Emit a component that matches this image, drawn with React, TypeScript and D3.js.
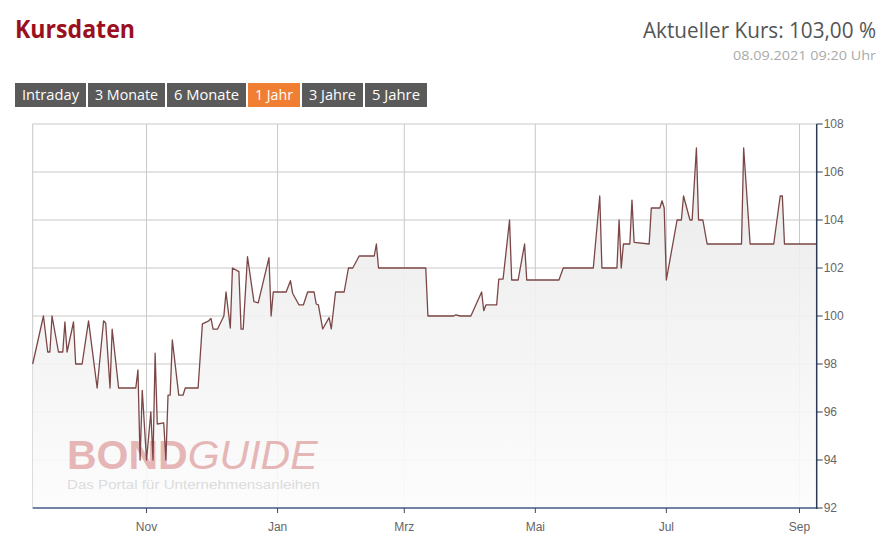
import React from 'react';
import * as d3 from 'd3';

// Kursverlauf, 1 Jahr
const dates = [
    '2020-09-09', '2020-09-14', '2020-09-16', '2020-09-17', '2020-09-18', '2020-09-21', '2020-09-23',
    '2020-09-24', '2020-09-25', '2020-09-28', '2020-09-29', '2020-10-02', '2020-10-05', '2020-10-09',
    '2020-10-12', '2020-10-13', '2020-10-15', '2020-10-16', '2020-10-19', '2020-10-27', '2020-10-28',
    '2020-10-29', '2020-10-30', '2020-11-01', '2020-11-03', '2020-11-04', '2020-11-05', '2020-11-06',
    '2020-11-09', '2020-11-10', '2020-11-11', '2020-11-12', '2020-11-13', '2020-11-16', '2020-11-18',
    '2020-11-19', '2020-11-25', '2020-11-27', '2020-11-30', '2020-12-01', '2020-12-02', '2020-12-04',
    '2020-12-07', '2020-12-08', '2020-12-10', '2020-12-11', '2020-12-14', '2020-12-15', '2020-12-16',
    '2020-12-18', '2020-12-21', '2020-12-23', '2020-12-28', '2020-12-29', '2020-12-30', '2021-01-05',
    '2021-01-07', '2021-01-08', '2021-01-11', '2021-01-13', '2021-01-15', '2021-01-18', '2021-01-19',
    '2021-01-20', '2021-01-22', '2021-01-25', '2021-01-26', '2021-01-28', '2021-02-01', '2021-02-03',
    '2021-02-05', '2021-02-08', '2021-02-15', '2021-02-16', '2021-02-17', '2021-03-11', '2021-03-12',
    '2021-03-24', '2021-03-25', '2021-03-27', '2021-04-01', '2021-04-06', '2021-04-07', '2021-04-08',
    '2021-04-13', '2021-04-14', '2021-04-16', '2021-04-19', '2021-04-20', '2021-04-23', '2021-04-26',
    '2021-04-27', '2021-05-12', '2021-05-14', '2021-05-28', '2021-05-31', '2021-06-01', '2021-06-08',
    '2021-06-09', '2021-06-10', '2021-06-11', '2021-06-14', '2021-06-15', '2021-06-16', '2021-06-23',
    '2021-06-24', '2021-06-28', '2021-06-29', '2021-06-30', '2021-07-01', '2021-07-06', '2021-07-08',
    '2021-07-09', '2021-07-12', '2021-07-13', '2021-07-15', '2021-07-16', '2021-07-18', '2021-07-20',
    '2021-08-05', '2021-08-06', '2021-08-09', '2021-08-20', '2021-08-23', '2021-08-24', '2021-08-25',
    '2021-09-09',
];

const prices = [
    98, 100, 98.5, 98.5, 100, 98.5, 98.5,
    99.75, 98.5, 99.75, 98, 98, 99.8, 97,
    99.8, 99.7, 97, 99.45, 97, 97, 97.75,
    94, 96.9, 94, 96, 94, 98.45, 95.5,
    95.55, 94, 96.7, 96.7, 99, 96.7, 96.7,
    97, 97, 99.67, 99.8, 99.9, 99.45, 99.45,
    100, 101, 99.5, 102, 101.85, 99.45, 99.45,
    102.47, 100.6, 100.55, 102.43, 100, 101, 101,
    101.47, 100.95, 100.46, 100.46, 101, 101, 100.5,
    100.46, 99.46, 99.93, 99.46, 101, 101, 102,
    102, 102.5, 102.5, 103, 102, 102, 100,
    100, 100.05, 100, 100, 101, 100.22, 100.46,
    100.46, 101.54, 101.54, 104, 101.5, 101.5, 103,
    101.5, 101.5, 102, 102, 105, 102, 102,
    104, 102, 103, 103, 104.83, 103.07, 103,
    104.5, 104.5, 104.8, 104.5, 101.5, 104, 104,
    105, 104, 104, 107, 104, 104, 103,
    103, 107, 103, 103, 105, 105, 103,
    103,
];

const yTicks = [92, 94, 96, 98, 100, 102, 104, 106, 108];
const monthTicks = ['2020-11-01', '2021-01-01', '2021-03-01', '2021-05-01', '2021-07-01', '2021-09-01'];
const monthLabels = ['Nov', 'Jan', 'Mrz', 'Mai', 'Jul', 'Sep'];
const rangeButtons = ['Intraday', '3 Monate', '6 Monate', '1 Jahr', '3 Jahre', '5 Jahre'];
const activeRange = '1 Jahr';

const W = 885;
const H = 550;
const plot = { left: 32.7, right: 816.7, top: 124, bottom: 508 };
const buttonWidths = [71, 77, 79, 52, 61, 62];

const parse = d3.timeParse('%Y-%m-%d');

interface Point {
    date: Date;
    value: number;
}

const App: React.FC = () => {
    const data: Point[] = dates.map((d, i) => ({ date: parse(d) as Date, value: prices[i] }));

    const x = d3
        .scaleTime()
        .domain([parse('2020-09-09') as Date, parse('2021-09-09') as Date])
        .range([plot.left, plot.right]);
    const y = d3.scaleLinear().domain([92, 108]).range([plot.bottom, plot.top]);

    const line = d3
        .line<Point>()
        .x((d) => x(d.date))
        .y((d) => y(d.value));
    const area = d3
        .area<Point>()
        .x((d) => x(d.date))
        .y0(plot.bottom)
        .y1((d) => y(d.value));

    const ticks = monthTicks.map((m) => parse(m) as Date);

    let bx = 15;
    const buttons = rangeButtons.map((label, i) => {
        const b = { label, x: bx, w: buttonWidths[i] };
        bx += buttonWidths[i] + 2;
        return b;
    });

    return (
        <svg
            width={W}
            height={H}
            style={{ position: 'absolute', left: 0, top: 0, background: '#fff' }}
        >
            <defs>
                <linearGradient id="areaFill" gradientUnits="userSpaceOnUse" x1="0" y1={plot.top} x2="0" y2={plot.bottom}>
                    <stop offset="0" stopColor="#e7e7e7" />
                    <stop offset="1" stopColor="#fcfcfc" />
                </linearGradient>
            </defs>

            {/* Kopfzeile */}
            <text
                x={15}
                y={38}
                fontFamily="Open Sans"
                fontWeight={700}
                fontSize={25}
                fill="#9b1020"
                textLength={120}
                lengthAdjust="spacingAndGlyphs"
            >
                Kursdaten
            </text>
            <text
                x={876}
                y={38}
                textAnchor="end"
                fontFamily="Open Sans"
                fontSize={21}
                fill="#555"
                textLength={233}
                lengthAdjust="spacingAndGlyphs"
            >
                Aktueller Kurs: 103,00 %
            </text>
            <text
                x={876}
                y={60}
                textAnchor="end"
                fontFamily="Open Sans"
                fontSize={13}
                fill="#aaa"
                textLength={143}
                lengthAdjust="spacingAndGlyphs"
            >
                08.09.2021 09:20 Uhr
            </text>

            {buttons.map((b) => (
                <g key={b.label}>
                    <rect
                        x={b.x}
                        y={83}
                        width={b.w}
                        height={24}
                        fill={b.label === activeRange ? '#f07f34' : '#5a5a5a'}
                    />
                    <text
                        x={b.x + b.w / 2}
                        y={100}
                        textAnchor="middle"
                        fontFamily="Open Sans"
                        fontSize={14}
                        fill="#fff"
                        textLength={b.w - 14}
                        lengthAdjust="spacingAndGlyphs"
                    >
                        {b.label}
                    </text>
                </g>
            ))}

            {/* Raster */}
            <g stroke="#c8c8c8" strokeWidth={1}>
                {yTicks.map((t) => (
                    <line key={t} x1={plot.left} x2={plot.right} y1={y(t)} y2={y(t)} />
                ))}
                <line x1={plot.left} x2={plot.left} y1={plot.top} y2={plot.bottom} />
                {ticks.map((t, i) => (
                    <line key={i} x1={x(t)} x2={x(t)} y1={plot.top} y2={plot.bottom} />
                ))}
            </g>

            <path d={area(data) || ''} fill="url(#areaFill)" opacity={0.9} />

            {/* Wasserzeichen */}
            <text x={67} y={469} fontFamily="Liberation Sans, Arial" fontSize={41} fill="#d98a8a" opacity={0.6}>
                <tspan fontWeight={700}>BOND</tspan>
                <tspan fontStyle="italic" fontWeight={400}>GUIDE</tspan>
            </text>
            <text
                x={67}
                y={489}
                fontFamily="Liberation Sans, Arial"
                fontSize={12.5}
                fill="#dcdcdc"
                textLength={253}
                lengthAdjust="spacingAndGlyphs"
            >
                Das Portal für Unternehmensanleihen
            </text>

            <path d={line(data) || ''} fill="none" stroke="#7b4646" strokeWidth={1.3} strokeLinejoin="round" />

            {/* x-Achse */}
            <line x1={plot.left} x2={plot.right} y1={plot.bottom} y2={plot.bottom} stroke="#7282a6" strokeWidth={2} />
            {ticks.map((t, i) => (
                <g key={i}>
                    <line x1={x(t)} x2={x(t)} y1={plot.bottom} y2={plot.bottom + 5} stroke="#3a4660" strokeWidth={1} />
                    <text
                        x={x(t)}
                        y={531}
                        textAnchor="middle"
                        fontFamily="Liberation Sans, Arial"
                        fontSize={12}
                        fill="#666"
                    >
                        {monthLabels[i]}
                    </text>
                </g>
            ))}

            {/* y-Achse rechts */}
            <line x1={plot.right} x2={plot.right} y1={plot.top} y2={plot.bottom + 1} stroke="#2c3a57" strokeWidth={1.5} />
            {yTicks.map((t) => (
                <g key={t}>
                    <line x1={plot.right} x2={plot.right + 6} y1={y(t)} y2={y(t)} stroke="#2c3a57" strokeWidth={1} />
                    <text
                        x={plot.right + 7}
                        y={y(t) + 4}
                        fontFamily="Liberation Sans, Arial"
                        fontSize={12}
                        fill="#666"
                    >
                        {t}
                    </text>
                </g>
            ))}
        </svg>
    );
};

export default App;
